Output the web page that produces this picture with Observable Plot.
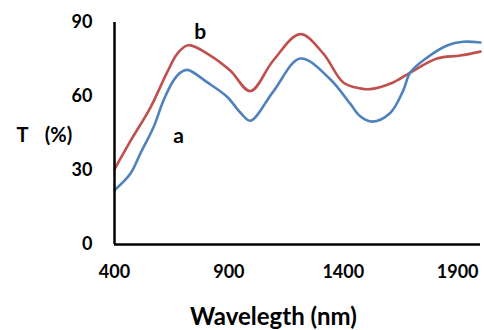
<!DOCTYPE html>
<html>
<head>
<meta charset="utf-8">
<script src="https://cdn.jsdelivr.net/npm/d3@7"></script>
<script src="https://cdn.jsdelivr.net/npm/@observablehq/plot@0.6"></script>
<style>
  html, body { margin: 0; padding: 0; background: #fff; }
  #chart svg { display: block; }
</style>
</head>
<body>
<div id="chart"></div>
<script>
// Wavelength (nm) sample points and transmittance (%) values
const wavelengthA = [400, 470, 513, 570, 614, 658, 688, 719, 806, 893, 950, 994, 1094, 1212, 1343, 1431, 1474, 1527, 1605, 1662, 1693, 1767, 1854, 1924, 2000];
const seriesA     = [22,  28.8, 36.9, 47.4, 58.4, 66.5, 69.7, 70.8, 65.7, 59.8, 53.5, 50.2, 62, 75.4, 67, 57, 52, 49.8, 53.3, 62.4, 69.7, 75.8, 80.7, 82.2, 81.9];

const wavelengthB = [400, 470, 557, 631, 675, 722, 819, 906, 994, 1094, 1212, 1313, 1400, 1474, 1518, 1618, 1693, 1810, 1911, 2000];
const seriesB     = [30.5, 42, 55.5, 70, 77.4, 80.8, 76.6, 70.5, 62.2, 74.6, 85.3, 77.4, 65.7, 63.3, 63, 65.7, 69.7, 75.4, 76.6, 78.2];

const xTicks = [400, 900, 1400, 1900];
const yTicks = [0, 30, 60, 90];
const seriesLabels = ["a", "b"];

const dataA = wavelengthA.map((w, i) => ({w, t: seriesA[i]}));
const dataB = wavelengthB.map((w, i) => ({w, t: seriesB[i]}));

const font = "Lato, 'Open Sans', sans-serif";

const chart = Plot.plot({
  width: 484,
  height: 330,
  marginLeft: 114,
  marginRight: 4,
  marginTop: 22,
  marginBottom: 86,
  style: {fontFamily: font, fontWeight: "bold", fontSize: "18px", color: "#000", background: "#fff"},
  x: {domain: [400, 2000], ticks: xTicks, tickSize: 0, tickPadding: 21, label: null, tickFormat: d => String(d)},
  y: {domain: [0, 90], ticks: yTicks, tickSize: 0, tickPadding: 22, label: null},
  marks: [
    Plot.line(dataB, {x: "w", y: "t", stroke: "#C0504D", strokeWidth: 2.6, curve: "catmull-rom"}),
    Plot.line(dataA, {x: "w", y: "t", stroke: "#4F81BD", strokeWidth: 2.6, curve: "catmull-rom"}),
    Plot.ruleX([400], {stroke: "#000", strokeWidth: 2.5, y1: 0, y2: 90}),
    Plot.ruleY([0], {stroke: "#000", strokeWidth: 2.5, x1: 400, x2: 2000}),
    Plot.text([seriesLabels[0]], {x: 680, y: 44, text: d => d, fontSize: 21, fontWeight: "bold", fill: "#000"}),
    Plot.text([seriesLabels[1]], {x: 775, y: 86, text: d => d, fontSize: 21, fontWeight: "bold", fill: "#000"}),
    Plot.text(["T"], {frameAnchor: "left", textAnchor: "middle", lineAnchor: "middle", dx: -92, dy: 2, text: d => d, fontSize: 20, fontWeight: "bold", fill: "#000"}),
    Plot.text(["(%)"], {frameAnchor: "left", textAnchor: "middle", lineAnchor: "middle", dx: -56, dy: 2, text: d => d, fontSize: 20, fontWeight: "bold", fill: "#000"}),
    Plot.text(["Wavelegth (nm)"], {frameAnchor: "bottom", textAnchor: "middle", lineAnchor: "middle", dx: -24, dy: 73, text: d => d, fontSize: 24, fontWeight: "bold", fill: "#000"})
  ]
});
document.getElementById("chart").appendChild(chart);
</script>
</body>
</html>
